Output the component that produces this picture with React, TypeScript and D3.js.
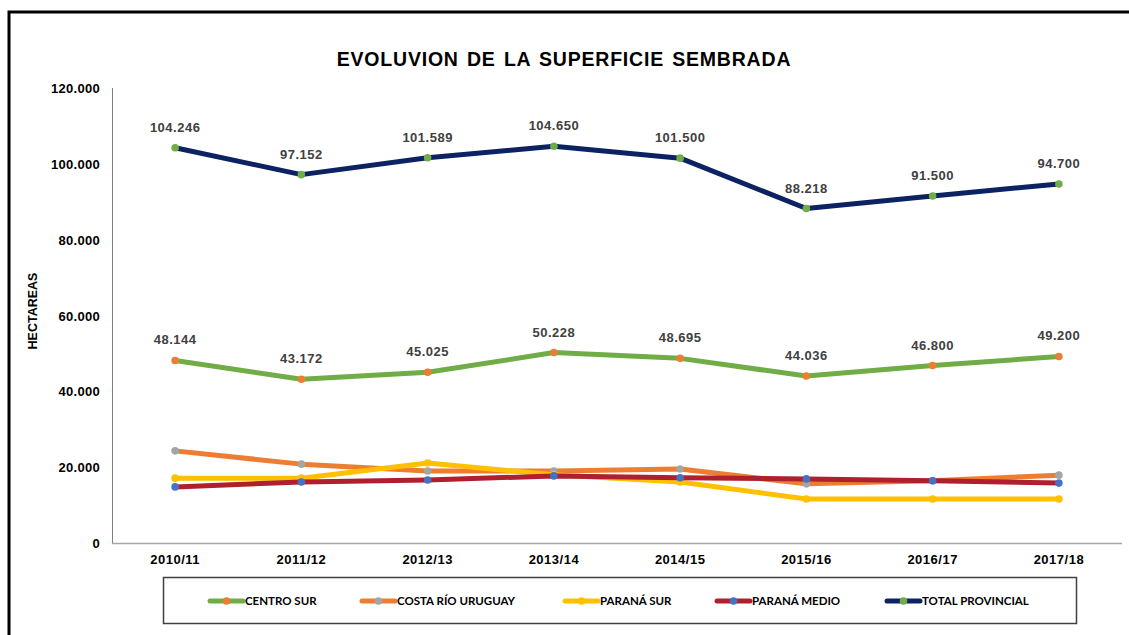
import React from "react";
import * as d3 from "d3";

const campaigns = ["2010/11", "2011/12", "2012/13", "2013/14", "2014/15", "2015/16", "2016/17", "2017/18"];
const centroSur = [48144, 43172, 45025, 50228, 48695, 44036, 46800, 49200];
const costaRioUruguay = [24300, 20800, 19000, 19000, 19500, 15600, 16400, 17900];
const paranaSur = [17100, 17100, 21100, 18000, 16100, 11600, 11600, 11600];
const paranaMedio = [14800, 16100, 16600, 17700, 17200, 16900, 16400, 15800];
const totalProvincial = [104246, 97152, 101589, 104650, 101500, 88218, 91500, 94700];
const yTicks = [0, 20000, 40000, 60000, 80000, 100000, 120000];

const series = [
  { name: "CENTRO SUR", values: centroSur, line: "#70AD47", marker: "#ED7D31", labels: true },
  { name: "COSTA RÍO URUGUAY", values: costaRioUruguay, line: "#ED7D31", marker: "#A5A5A5", labels: false },
  { name: "PARANÁ SUR", values: paranaSur, line: "#FFC000", marker: "#FFC000", labels: false },
  { name: "PARANÁ MEDIO", values: paranaMedio, line: "#B01F2E", marker: "#4472C4", labels: false },
  { name: "TOTAL PROVINCIAL", values: totalProvincial, line: "#0C2262", marker: "#70AD47", labels: true },
];
const legendX = [210, 362, 565, 717, 887];

const loc = d3.formatLocale({ decimal: ",", thousands: ".", grouping: [3], currency: ["", ""] });
const fmt = loc.format(",d");

export default function App() {
  const W = 1129, H = 635;
  const x = d3.scaleBand().domain(campaigns).range([112, 1122]);
  const y = d3.scaleLinear().domain([0, 120000]).range([543, 88]);
  const cx = (c: string) => (x(c) as number) + x.bandwidth() / 2;
  const line = d3.line<number>().x((_, i) => cx(campaigns[i])).y((v) => y(v));
  const font = "Liberation Sans, Arial, sans-serif";
  return (
    <svg width={W} height={H} style={{ position: "absolute", left: 0, top: 0, background: "#fff" }}>
      <rect x={0} y={0} width={W} height={H} fill="#fff" />
      <rect x={9} y={12} width={1300} height={800} fill="none" stroke="#000" strokeWidth={3} />
      <text x={564} y={65.5} textAnchor="middle" fontFamily={font} fontWeight="bold" fontSize={19.5} letterSpacing={0.8} wordSpacing={2} fill="#000">
        EVOLUVION DE LA SUPERFICIE SEMBRADA
      </text>
      <text transform="translate(37,311) rotate(-90)" textAnchor="middle" fontFamily={font} fontWeight="bold" fontSize={12.5} fill="#000">
        HECTAREAS
      </text>
      <line x1={112.5} x2={112.5} y1={88} y2={543} stroke="#7f7f7f" strokeWidth={1} />
      <line x1={112} x2={1122} y1={543.5} y2={543.5} stroke="#a6a6a6" strokeWidth={1.5} />
      {yTicks.map((t) => (
        <text key={t} x={100} y={y(t) + 5} textAnchor="end" fontFamily={font} fontWeight="bold" fontSize={13} letterSpacing={0.3} fill="#000">
          {fmt(t)}
        </text>
      ))}
      {campaigns.map((c) => (
        <text key={c} x={cx(c)} y={564} textAnchor="middle" fontFamily={font} fontWeight="bold" fontSize={13} letterSpacing={0.5} fill="#000">
          {c}
        </text>
      ))}
      {series.map((s) => (
        <g key={s.name}>
          <path d={line(s.values) as string} fill="none" stroke={s.line} strokeWidth={5} strokeLinejoin="round" strokeLinecap="round" />
          {s.values.map((v, i) => (
            <circle key={i} cx={cx(campaigns[i])} cy={y(v)} r={3.8} fill={s.marker} />
          ))}
        </g>
      ))}
      {series.filter((s) => s.labels).map((s) => (
        <g key={s.name + "-l"}>
          {s.values.map((v, i) => (
            <text key={i} x={cx(campaigns[i])} y={y(v) - 16} textAnchor="middle" fontFamily={font} fontWeight="bold" fontSize={13} letterSpacing={0.5} fill="#404040">
              {fmt(v)}
            </text>
          ))}
        </g>
      ))}
      <rect x={163.5} y={577.5} width={913} height={46} fill="#fff" stroke="#404040" strokeWidth={1.5} />
      {series.map((s, i) => (
        <g key={s.name + "-lg"}>
          <line x1={legendX[i]} x2={legendX[i] + 33} y1={601} y2={601} stroke={s.line} strokeWidth={5} strokeLinecap="round" />
          <circle cx={legendX[i] + 16.5} cy={601} r={3.8} fill={s.marker} />
          <text x={legendX[i] + 35} y={605} fontFamily="Lato, Open Sans, sans-serif" fontWeight="bold" fontSize={11.5} fill="#000">
            {s.name}
          </text>
        </g>
      ))}
    </svg>
  );
}
